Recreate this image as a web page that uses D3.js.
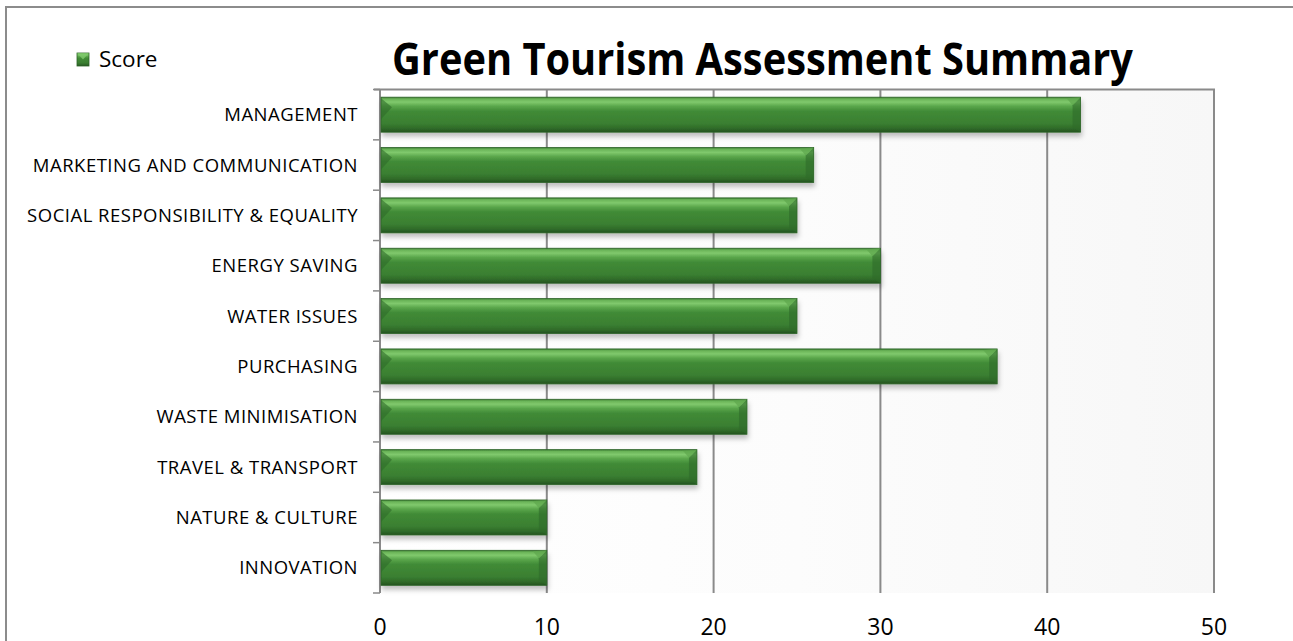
<!DOCTYPE html>
<html>
<head>
<meta charset="utf-8">
<script src="https://cdn.jsdelivr.net/npm/d3@7"></script>
<style>
  html, body { margin: 0; padding: 0; background: #fff; }
  svg { display: block; }
</style>
</head>
<body>
<svg id="chart" width="1293" height="641"></svg>
<script>
const title = "Green Tourism Assessment Summary";
const seriesName = "Score";
const categories = [
  "MANAGEMENT",
  "MARKETING AND COMMUNICATION",
  "SOCIAL RESPONSIBILITY & EQUALITY",
  "ENERGY SAVING",
  "WATER ISSUES",
  "PURCHASING",
  "WASTE MINIMISATION",
  "TRAVEL & TRANSPORT",
  "NATURE & CULTURE",
  "INNOVATION"
];
const scores = [42, 26, 25, 30, 25, 37, 22, 19, 10, 10];
const xTicks = [0, 10, 20, 30, 40, 50];

const svg = d3.select("#chart");
const W = 1293, H = 641;
const plot = { left: 380, right: 1214, top: 89.5, bottom: 593 };
const fontFamily = "'Open Sans', sans-serif";

const defs = svg.append("defs");
const g1 = defs.append("linearGradient").attr("id", "barGrad")
  .attr("x1", 0).attr("y1", 0).attr("x2", 0).attr("y2", 1);
[[0, "#3c7a32"], [0.05, "#69b357"], [0.14, "#80c96d"], [0.26, "#5aa64b"],
 [0.4, "#418b37"], [0.75, "#3a7f31"], [0.9, "#2f6a29"], [1, "#24521f"]]
  .forEach(([o, c]) => g1.append("stop").attr("offset", o).attr("stop-color", c));
const bg = defs.append("linearGradient").attr("id", "bgGrad")
  .attr("x1", 0).attr("y1", 0).attr("x2", 1).attr("y2", 0);
[[0, "#ffffff"], [0.5, "#fcfcfc"], [1, "#f7f7f7"]]
  .forEach(([o, c]) => bg.append("stop").attr("offset", o).attr("stop-color", c));
const f = defs.append("filter").attr("id", "shadow")
  .attr("x", "-5%").attr("y", "-30%").attr("width", "110%").attr("height", "170%");
f.append("feDropShadow").attr("dx", 1).attr("dy", 4).attr("stdDeviation", 2.5)
  .attr("flood-color", "#000").attr("flood-opacity", 0.25);

// Outer frame
svg.append("rect").attr("x", 6).attr("y", 7).attr("width", W + 20).attr("height", H + 20)
  .attr("fill", "#fff").attr("stroke", "#8c8c8c").attr("stroke-width", 2);

const x = d3.scaleLinear().domain([0, 50]).range([plot.left, plot.right]);
const y = d3.scaleBand().domain(categories).range([plot.top, plot.bottom])
  .paddingInner(0.305).paddingOuter(0.1525);

// Plot background
svg.append("rect").attr("x", plot.left).attr("y", plot.top)
  .attr("width", plot.right - plot.left).attr("height", plot.bottom - plot.top)
  .attr("fill", "url(#bgGrad)");

// Gridlines
svg.append("g").selectAll("line").data(xTicks.filter(t => t > 0)).join("line")
  .attr("x1", d => x(d)).attr("x2", d => x(d))
  .attr("y1", plot.top).attr("y2", plot.bottom)
  .attr("stroke", "#8a8a8a").attr("stroke-width", 2);
// top border
svg.append("line").attr("x1", plot.left - 6).attr("x2", plot.right + 1)
  .attr("y1", plot.top).attr("y2", plot.top)
  .attr("stroke", "#8a8a8a").attr("stroke-width", 2);

// Left axis with ticks at band boundaries
const step = y.step();
const boundaries = categories.map(c => y(c) - step * y.paddingInner() / 2)
  .concat([y(categories[categories.length - 1]) + y.bandwidth() + step * y.paddingInner() / 2]);
svg.append("line").attr("x1", plot.left).attr("x2", plot.left)
  .attr("y1", plot.top).attr("y2", plot.bottom)
  .attr("stroke", "#8a8a8a").attr("stroke-width", 2);
svg.append("g").selectAll("line").data(boundaries).join("line")
  .attr("x1", plot.left - 7).attr("x2", plot.left)
  .attr("y1", d => d).attr("y2", d => d)
  .attr("stroke", "#8a8a8a").attr("stroke-width", 1.5);

// Bars
const bars = svg.append("g").selectAll("g").data(categories).join("g");
bars.append("rect")
  .attr("x", x(0) + 1).attr("y", c => y(c))
  .attr("width", (c, i) => x(scores[i]) - x(0) - 1).attr("height", y.bandwidth())
  .attr("fill", "url(#barGrad)").attr("filter", "url(#shadow)")
  .attr("stroke", "#2e6428").attr("stroke-width", 0.8);
// right bevel facet
bars.append("path").attr("d", (c, i) => {
  const x1 = x(scores[i]), y0 = y(c), y1 = y0 + y.bandwidth();
  return `M${x1 - 8},${y0 + 8} L${x1},${y0} L${x1},${y1} L${x1 - 8},${y1 - 5} Z`;
}).attr("fill", "#2f6a29").attr("opacity", 0.6);
bars.append("path").attr("d", (c, i) => {
  const x1 = x(scores[i]), y0 = y(c);
  return `M${x1 - 8},${y0 + 8} L${x1},${y0} L${x1 - 14},${y0 + 1} Z`;
}).attr("fill", "#5ea74d").attr("opacity", 0.7);
// left bevel facet
bars.append("path").attr("d", c => {
  const x0 = x(0) + 1, y0 = y(c);
  return `M${x0},${y0 + 1} L${x0 + 11},${y0 + 10} L${x0},${y0 + 22} Z`;
}).attr("fill", "#2f6a29").attr("opacity", 0.6);

// Category labels
svg.append("g").selectAll("text").data(categories).join("text")
  .attr("x", plot.left - 22).attr("y", c => y(c) + y.bandwidth() / 2)
  .attr("dy", "0.36em").attr("text-anchor", "end")
  .attr("font-family", fontFamily).attr("font-size", 18.5).attr("letter-spacing", 0.5)
  .attr("fill", "#000")
  .text(c => c);

// X tick labels
svg.append("g").selectAll("text").data(xTicks).join("text")
  .attr("x", d => x(d)).attr("y", 635).attr("text-anchor", "middle")
  .attr("font-family", fontFamily).attr("font-size", 23).attr("fill", "#000")
  .text(d => d);

// Title
svg.append("text").attr("x", 392).attr("y", 75)
  .attr("font-family", fontFamily).attr("font-weight", "bold").attr("font-size", 44)
  .attr("textLength", 741).attr("lengthAdjust", "spacingAndGlyphs")
  .attr("fill", "#000").text(title);

// Legend
svg.append("rect").attr("x", 77).attr("y", 53).attr("width", 12).attr("height", 13)
  .attr("fill", "url(#barGrad)").attr("stroke", "#2e6428").attr("stroke-width", 0.8);
svg.append("path").attr("d", "M77,53 L83,59.5 L89,53 Z").attr("fill", "#80c96d").attr("opacity", 0.8);
svg.append("text").attr("x", 99).attr("y", 67)
  .attr("font-family", fontFamily).attr("font-size", 22.5).attr("fill", "#000")
  .text(seriesName);
</script>
</body>
</html>
